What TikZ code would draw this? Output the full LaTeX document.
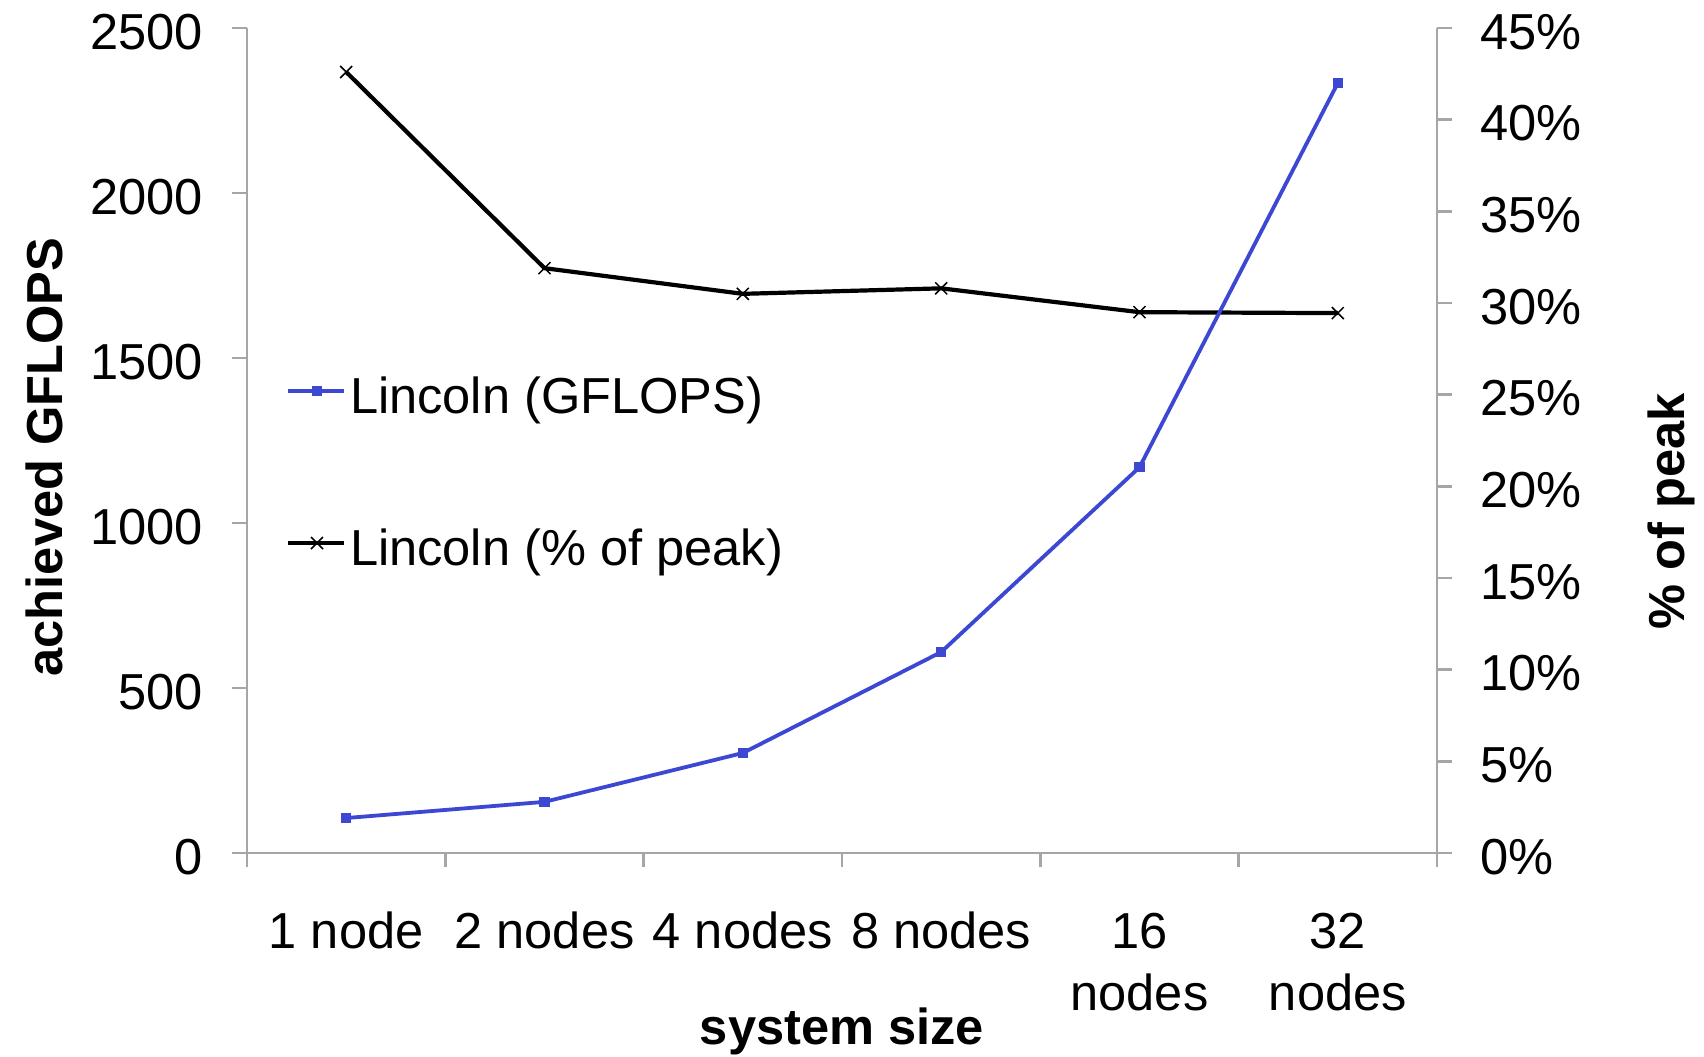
\documentclass[tikz,border=0pt]{standalone}
\usepackage{fontspec}
\setmainfont{Liberation Sans}
\usetikzlibrary{calc}
\definecolor{seriesblue}{RGB}{60,72,212}
\definecolor{axisgray}{RGB}{166,166,166}
\begin{document}
\begin{tikzpicture}[x=0.5pt,y=-0.5pt,
  every node/.style={inner sep=0pt,outer sep=0pt,font=\fontsize{25.3pt}{30pt}\selectfont},
  axisline/.style={draw=axisgray,line width=1.25pt},
  gflopsline/.style={draw=seriesblue,line width=1.9pt,line join=round},
  peakline/.style={draw=black,line width=2.1pt,line join=round},
  sqmark/.style={fill=seriesblue,minimum size=5.2pt,draw=none},
  xmark/.style={draw=black,line width=0.75pt},
  axtitle/.style={font=\fontsize{25.3pt}{30pt}\selectfont\bfseries}]

% page frame
\path[use as bounding box,fill=white] (0,0) rectangle (1704,1056);

% plot frame corners
\coordinate (ll) at (247,853);
\coordinate (ul) at (247,28);
\coordinate (lr) at (1437,853);
\coordinate (ur) at (1437,28);

% axes
\draw[axisline] (ul) -- (ll) -- (lr) -- (ur);

% left ticks and labels (GFLOPS)
\foreach \v [count=\i] in {0,500,1000,1500,2000,2500}{
  \draw[axisline] (232,{853-\v*0.33}) -- (247,{853-\v*0.33});
  \node[anchor=base east] (yl\i) at (203,{853-\v*0.33+21}) {\v};
}

% right ticks and labels (% of peak)
\foreach \p [count=\i] in {0,5,...,45}{
  \draw[axisline] (1437,{853-\p*18.3333}) -- (1452,{853-\p*18.3333});
  \node[anchor=base west] (yr\i) at (1480,{853-\p*18.3333+21}) {\p\%};
}

% category ticks
\foreach \k in {0,...,6}{
  \draw[axisline] ({247+\k*198.333},853) -- ({247+\k*198.333},867);
}

% category labels
\node[anchor=base] (c1) at (346.2,948) {1 node};
\node[anchor=base] (c2) at (544.5,948) {2 nodes};
\node[anchor=base] (c3) at (742.8,948) {4 nodes};
\node[anchor=base] (c4) at (941.2,948) {8 nodes};
\node[anchor=base] (c5a) at (1139.5,948) {16};
\node[anchor=base] (c5b) at (1139.5,1010) {nodes};
\node[anchor=base] (c6a) at (1337.8,948) {32};
\node[anchor=base] (c6b) at (1337.8,1010) {nodes};

% axis titles
\node[axtitle,anchor=base] (xt) at (842,1044) {system size};
\node[axtitle,anchor=base,rotate=90] (ylt) at (62,457) {achieved GFLOPS};
\node[axtitle,anchor=base,rotate=90] (yrt) at (1684,511) {\% of peak};

% data points: GFLOPS
\coordinate (g1) at (346.2,{853-106*0.33});
\coordinate (g2) at (544.5,{853-155*0.33});
\coordinate (g3) at (742.8,{853-303*0.33});
\coordinate (g4) at (941.2,{853-609*0.33});
\coordinate (g5) at (1139.5,{853-1169*0.33});
\coordinate (g6) at (1337.8,{853-2333*0.33});

% data points: percent of peak
\coordinate (p1) at (346.2,{853-42.6*18.3333});
\coordinate (p2) at (544.5,{853-31.9*18.3333});
\coordinate (p3) at (742.8,{853-30.5*18.3333});
\coordinate (p4) at (941.2,{853-30.8*18.3333});
\coordinate (p5) at (1139.5,{853-29.5*18.3333});
\coordinate (p6) at (1337.8,{853-29.45*18.3333});

% percent series
\draw[peakline] (p1) -- (p2) -- (p3) -- (p4) -- (p5) -- (p6);
\foreach \n in {p1,p2,p3,p4,p5,p6}{
  \draw[xmark] ($(\n)+(-6,-6)$) -- ($(\n)+(6,6)$);
  \draw[xmark] ($(\n)+(-6,6)$) -- ($(\n)+(6,-6)$);
}

% GFLOPS series
\draw[gflopsline] (g1) -- (g2) -- (g3) -- (g4) -- (g5) -- (g6);
\foreach \n [count=\i] in {g1,g2,g3,g4,g5,g6}{
  \node[sqmark] (m\i) at (\n) {};
}

% legend
\coordinate (la1) at (288,391);
\coordinate (lb1) at (344,391);
\draw[gflopsline] (la1) -- (lb1);
\node[sqmark,minimum size=4.6pt] (lm1) at (317,391) {};
\node[anchor=base west] (lt1) at (350,413) {Lincoln (GFLOPS)};

\coordinate (la2) at (288,543);
\coordinate (lb2) at (344,543);
\draw[peakline] (la2) -- (lb2);
\coordinate (lm2) at (317,543);
\draw[xmark] ($(lm2)+(-6,-6)$) -- ($(lm2)+(6,6)$);
\draw[xmark] ($(lm2)+(-6,6)$) -- ($(lm2)+(6,-6)$);
\node[anchor=base west] (lt2) at (350,565) {Lincoln (\% of peak)};
\end{tikzpicture}
\end{document}
